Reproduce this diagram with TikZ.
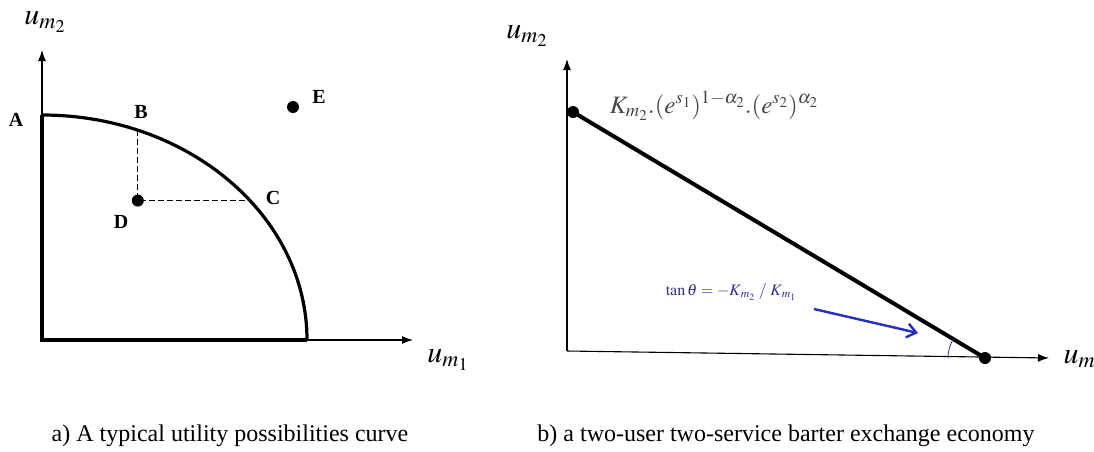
\documentclass[tikz,border=0pt]{standalone}
\usepackage{mathptmx}
\usepackage{fontspec}
\setmainfont{Liberation Serif}
\usetikzlibrary{calc,arrows.meta}
\definecolor{arrblue}{RGB}{35,45,200}
\definecolor{txtblue}{RGB}{45,45,150}
\definecolor{formgray}{RGB}{70,70,70}
\tikzset{
  axis/.style={line width=1.1pt,-{Latex[length=11pt,width=8pt]}},
  heavy/.style={line width=3.2pt},
  dot/.style={circle,fill=black,inner sep=0pt,minimum size=12pt},
  ptlabel/.style={font=\fontsize{20}{24}\selectfont\bfseries},
  axlabel/.style={font=\fontsize{30}{36}\selectfont},
  caption/.style={font=\fontsize{24}{28}\selectfont},
}
\begin{document}
\begin{tikzpicture}[x=1pt,y=-1pt]
\useasboundingbox (0,0) rectangle (1094,451);
\clip (0,0) rectangle (1094,451);
% ---------- left panel ----------
\coordinate (O1) at (42,340);
\coordinate (Y1) at (42,50);
\coordinate (X1) at (413,340);
\coordinate (A) at (42,115);
\coordinate (P) at (307,340);
\draw[axis] (O1) -- (Y1);
\draw[axis] (O1) -- (X1);
\draw[heavy,line join=miter] (A) -- (O1) -- (P);
\draw[heavy] (A) arc[start angle=-90,end angle=0,x radius=265,y radius=225];
\coordinate (B) at ($(O1)+(-68.8:265 and 225)$);
\coordinate (C) at ($(O1)+(-38.3:265 and 225)$);
\node[dot] (D) at (B |- C) {};
\draw[dashed,line width=0.9pt,dash pattern=on 6pt off 3pt] (B) -- (D.center) -- (C);
\node[dot] (E) at (293,107) {};
\node[ptlabel] (lA) at (16,120) {A};
\node[ptlabel] (lB) at (141,112) {B};
\node[ptlabel] (lC) at (273,198) {C};
\node[ptlabel] (lD) at (121,222) {D};
\node[ptlabel] (lE) at (319,97) {E};
\node[axlabel] (ly1) at (45,22) {$u_{m_2}$};
\node[axlabel] (lx1) at (448,360) {$u_{m_1}$};
\node[caption] (capA) at (230,436) {a) A typical utility possibilities curve};
% ---------- right panel ----------
\coordinate (O2) at (567,351);
\coordinate (Y2) at (567,59);
\coordinate (X2) at (1049,358);
\draw[axis] (O2) -- (Y2);
\draw[axis] (O2) -- (X2);
\node[dot] (L) at (573,112) {};
\node[dot] (R) at (985,358) {};
\draw[line width=4pt] (L.center) -- (R.center);
\draw[txtblue,line width=0.8pt] ($(R.center)+(180:37)$) arc[start angle=180,end angle=211,radius=37];
\node[font=\fontsize{25}{29}\selectfont,text=formgray] (F) at (714,106)
  {$K_{m_2}.(e^{s_1})^{1-\alpha_2}.(e^{s_2})^{\alpha_2}$};
\node[font=\fontsize{16}{19}\selectfont,text=txtblue] (T) at (731,292)
  {$\tan\theta = -K_{\,m_2}\;/\;K_{\,m_1}$};
\coordinate (a1) at (814,309);
\coordinate (a2) at (918,333);
\draw[arrblue,line width=2.4pt,-{Straight Barb[length=9pt,width=14pt]}] (a1) -- (a2);
\node[axlabel,anchor=west] (lx2) at (1060,361) {$u_{m_1}$};
\node[axlabel] (ly2) at (527,36) {$u_{m_2}$};
\node[caption] (capB) at (786,436) {b) a two-user two-service barter exchange economy};
\end{tikzpicture}
\end{document}
